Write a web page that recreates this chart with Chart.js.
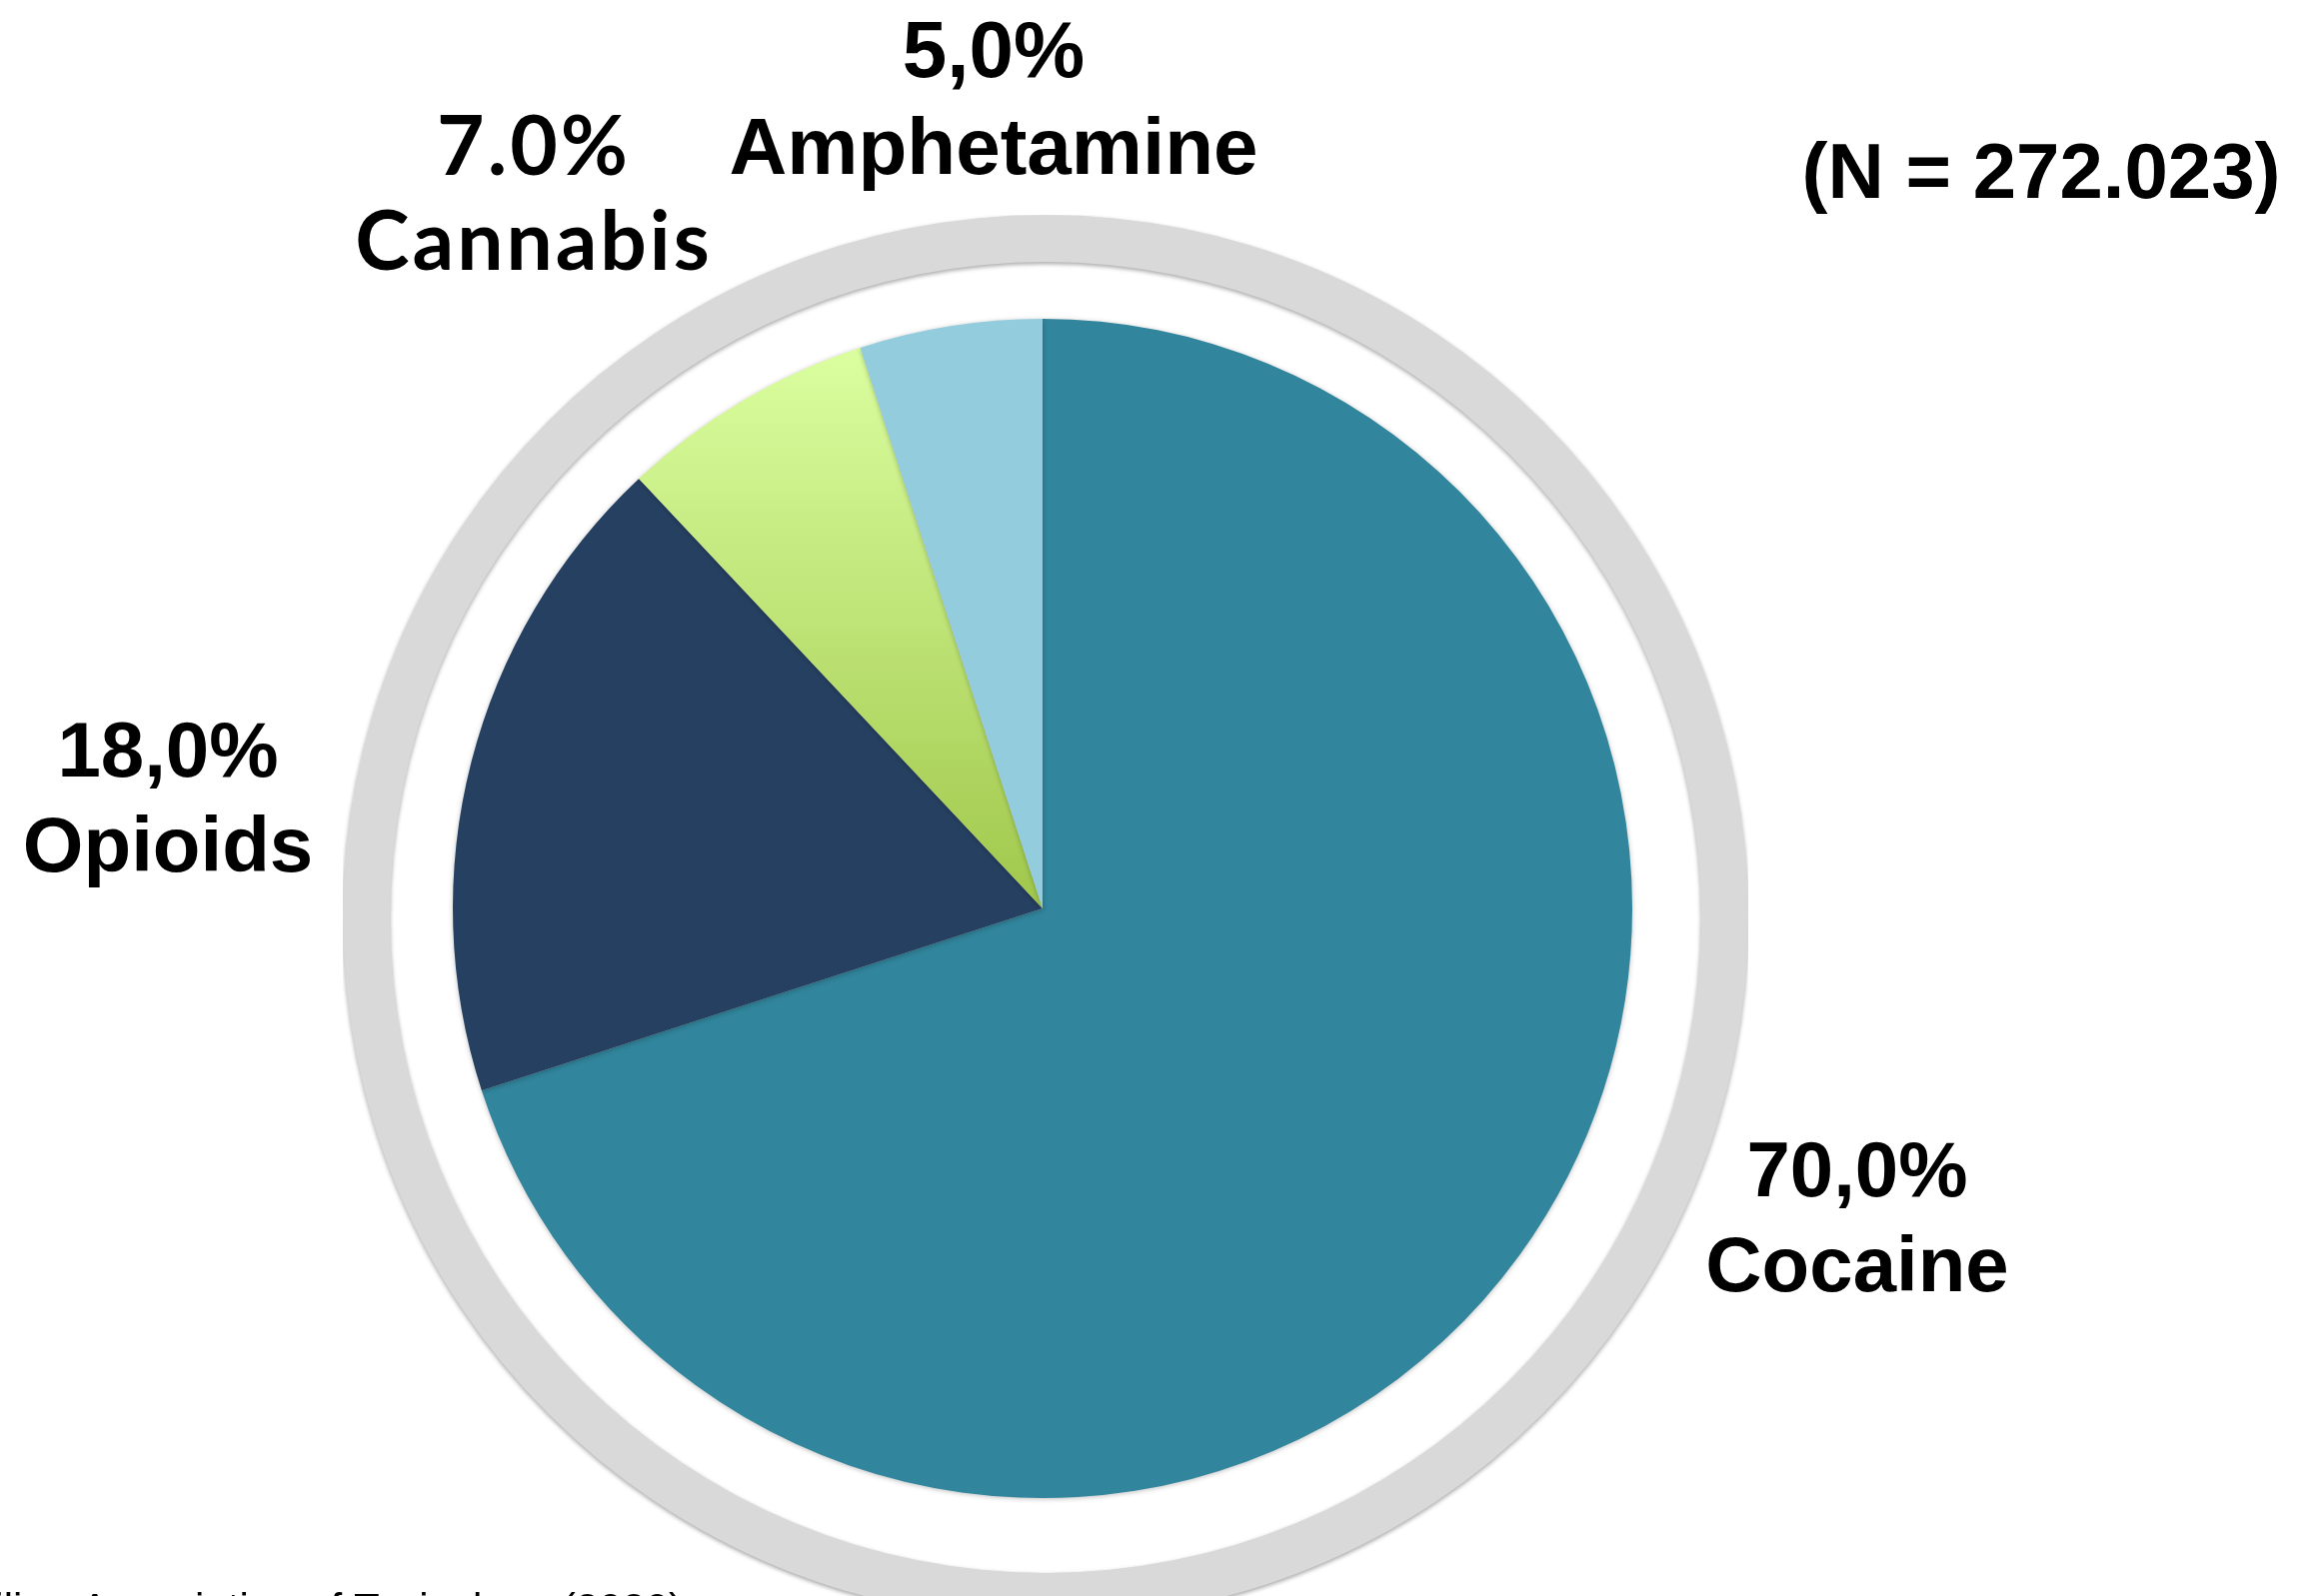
<!DOCTYPE html>
<html>
<head>
<meta charset="utf-8">
<script src="https://cdn.jsdelivr.net/npm/chart.js@4.4.0/dist/chart.umd.min.js"></script>
<style>
  html, body { margin: 0; padding: 0; background: #fff; overflow: hidden; width: 2320px; height: 1597px; }
  #ringCanvas { position: absolute; left: 343px; top: 215px; }
  #pieCanvas { position: absolute; left: 0; top: 0; }
</style>
</head>
<body>
<canvas id="ringCanvas" width="1406" height="1406"></canvas>
<canvas id="pieCanvas" width="2320" height="1597"></canvas>
<script>
/* ---------- data ---------- */
const categories = ['Cocaine', 'Opioids', 'Cannabis', 'Amphetamine'];
const shares = [70, 18, 7, 5];
const shareLabels = ['70,0%', '18,0%', '7.0%', '5,0%'];
const sampleNote = '(N = 272.023)';
const sourceNote = 'Brazilian Association of Toxicology (2020)';

/* ---------- look ---------- */
const COCAINE = '#31859c';
const OPIOIDS = '#264061';
const AMPHET = '#93cddd';
const RING = '#d9d9d9';

// where each label sits (centre x, baseline of first line, gap to second line)
const labelSpots = [
  { x: 1858, y: 1197, gap: 95, font: 'bold 78px "Liberation Sans", Arial, sans-serif', spacing: '0px' },
  { x: 168,  y: 777,  gap: 95, font: 'bold 78px "Liberation Sans", Arial, sans-serif', spacing: '0px' },
  { x: 534,  y: 175,  gap: 95, font: 'bold 82px Lato, sans-serif', spacing: '3px' },
  { x: 994,  y: 77,   gap: 97, font: 'bold 80px "Liberation Sans", Arial, sans-serif', spacing: '0px' }
];

/* ---------- plugins ---------- */
const softShadow = {
  id: 'softShadow',
  beforeDatasetsDraw(chart, args, opts) {
    const c = chart.ctx;
    c.save();
    c.shadowColor = opts.color;
    c.shadowBlur = opts.blur;
    c.shadowOffsetX = 0;
    c.shadowOffsetY = opts.dy;
  },
  afterDatasetsDraw(chart) {
    chart.ctx.restore();
  }
};

const sliceLabels = {
  id: 'sliceLabels',
  afterDraw(chart) {
    const c = chart.ctx;
    c.save();
    c.fillStyle = '#000';
    c.textBaseline = 'alphabetic';
    c.textAlign = 'center';
    labelSpots.forEach((s, i) => {
      c.font = s.font;
      c.letterSpacing = s.spacing;
      c.fillText(shareLabels[i], s.x, s.y);
      c.fillText(categories[i], s.x, s.y + s.gap);
    });
    c.letterSpacing = '0px';
    c.font = 'bold 78px "Liberation Sans", Arial, sans-serif';
    c.fillText(sampleNote, 2042, 198);

    // source line, cut by the bottom edge
    c.textAlign = 'left';
    c.font = '42px "Liberation Sans", Arial, sans-serif';
    c.fillText(sourceNote, -92, 1624);
    c.restore();
  }
};

/* ---------- outer grey ring ---------- */
new Chart(document.getElementById('ringCanvas'), {
  type: 'doughnut',
  data: {
    labels: ['ring'],
    datasets: [{ data: [1], backgroundColor: RING, borderWidth: 0, hoverOffset: 0 }]
  },
  options: {
    responsive: false,
    animation: false,
    events: [],
    cutout: '93.3%',
    layout: { padding: 0 },
    plugins: {
      legend: { display: false },
      tooltip: { enabled: false },
      softShadow: { color: 'rgba(0,0,0,0.35)', blur: 4, dy: 2 }
    }
  },
  plugins: [softShadow]
});

/* ---------- pie ---------- */
function sliceColor(ctx) {
  const i = ctx.dataIndex;
  if (i === 0) return COCAINE;
  if (i === 1) return OPIOIDS;
  if (i === 3) return AMPHET;
  const a = ctx.chart.chartArea;
  if (!a) return '#c4e07a';
  const g = ctx.chart.ctx.createLinearGradient(0, a.top + 20, 0, (a.top + a.bottom) / 2);
  g.addColorStop(0, '#dcffa1');
  g.addColorStop(1, '#a0c74b');
  return g;
}

new Chart(document.getElementById('pieCanvas'), {
  type: 'pie',
  data: {
    labels: categories,
    datasets: [{
      data: shares,
      backgroundColor: sliceColor,
      borderWidth: 0,
      hoverOffset: 0
    }]
  },
  options: {
    responsive: false,
    animation: false,
    events: [],
    layout: { padding: { left: 453, top: 319, right: 687, bottom: 98 } },
    plugins: {
      legend: { display: false },
      tooltip: { enabled: false },
      softShadow: { color: 'rgba(0,0,0,0.25)', blur: 5, dy: 1 }
    }
  },
  plugins: [softShadow, sliceLabels]
});
</script>
</body>
</html>
